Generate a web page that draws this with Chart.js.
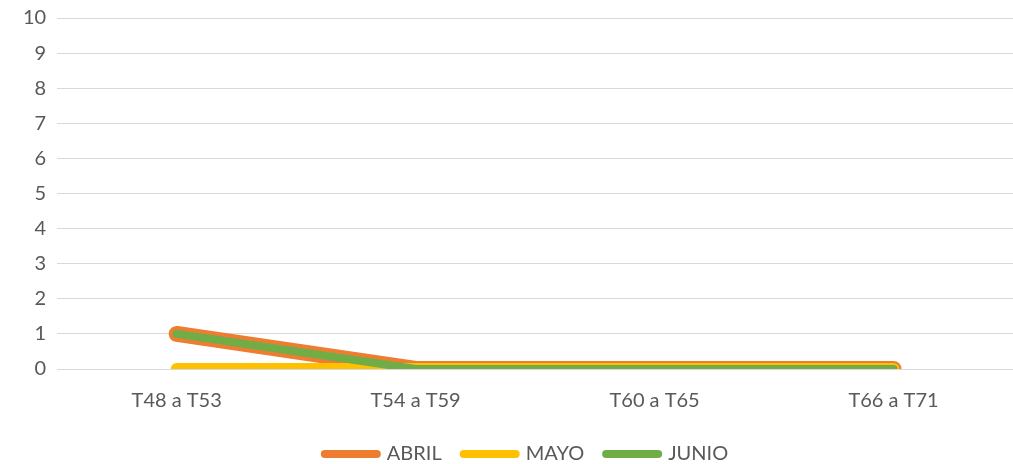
<!DOCTYPE html>
<html><head><meta charset="utf-8">
<script src="https://cdn.jsdelivr.net/npm/chart.js@4"></script>
<style>html,body{margin:0;padding:0;background:#fff;}#w{width:1013px;height:464px;}</style>
</head><body><div id="w"><canvas id="c" width="1013" height="464"></canvas></div>
<script>
const categories = ['T48 a T53','T54 a T59','T60 a T65','T66 a T71'];
const abril = [1,0,0,0];
const mayo = [0,0,0,0];
const junio = [1,0,0,0];
const yTicks = [0,1,2,3,4,5,6,7,8,9,10];

const FONT = {family: 'Lato, "Open Sans", sans-serif', size: 20};
const TXT = '#595959';
const shiftLegend = {
  id: 'shiftLegend',
  afterLayout(chart) {
    if (chart.legend) { chart.legend.left += 9; chart.legend.right += 9; }
  }
};
new Chart(document.getElementById('c'), {
  type: 'line',
  data: {
    labels: categories,
    datasets: [
      {label:'ABRIL', data: abril, borderColor:'#ED7D31', backgroundColor:'#ED7D31', borderWidth:16, order:2},
      {label:'MAYO', data: mayo, borderColor:'#FFC000', backgroundColor:'#FFC000', borderWidth:12, order:1},
      {label:'JUNIO', data: junio, borderColor:'#70AD47', backgroundColor:'#70AD47', borderWidth:8, order:0}
    ].map(d => Object.assign(d, {pointRadius:0, pointHoverRadius:0, tension:0, borderCapStyle:'round', borderJoinStyle:'round', clip:0, fill:false}))
  },
  options: {
    responsive: false,
    animation: false,
    devicePixelRatio: 1,
    layout: {padding: {left: 12, right: -10, top: 18, bottom: -10}},
    scales: {
      x: {
        offset: true,
        grid: {display: false, drawTicks: false},
        border: {display: false},
        ticks: {color: TXT, font: FONT, padding: 20, maxRotation: 0},
        afterFit: s => { s.height -= 11; }
      },
      y: {
        min: 0, max: 10,
        afterBuildTicks: s => { s.ticks = yTicks.map(v => ({value: v})); },
        grid: {color: '#d9d9d9', lineWidth: 1, drawTicks: false},
        border: {display: false},
        ticks: {color: TXT, font: FONT, padding: 11},
        afterFit: s => { s.paddingTop = 0; }
      }
    },
    plugins: {
      tooltip: {enabled: false},
      legend: {
        position: 'bottom',
        labels: {
          color: TXT, font: FONT, usePointStyle: true, pointStyleWidth: 52, padding: 22,
          generateLabels: chart => chart.data.datasets.map((d, i) => ({
            text: d.label, fillStyle: d.borderColor, strokeStyle: d.borderColor,
            lineWidth: 8, lineCap: 'round', pointStyle: 'line', datasetIndex: i, hidden: false, fontColor: TXT
          }))
        }
      }
    }
  },
  plugins: [shiftLegend]
});
</script></body></html>
